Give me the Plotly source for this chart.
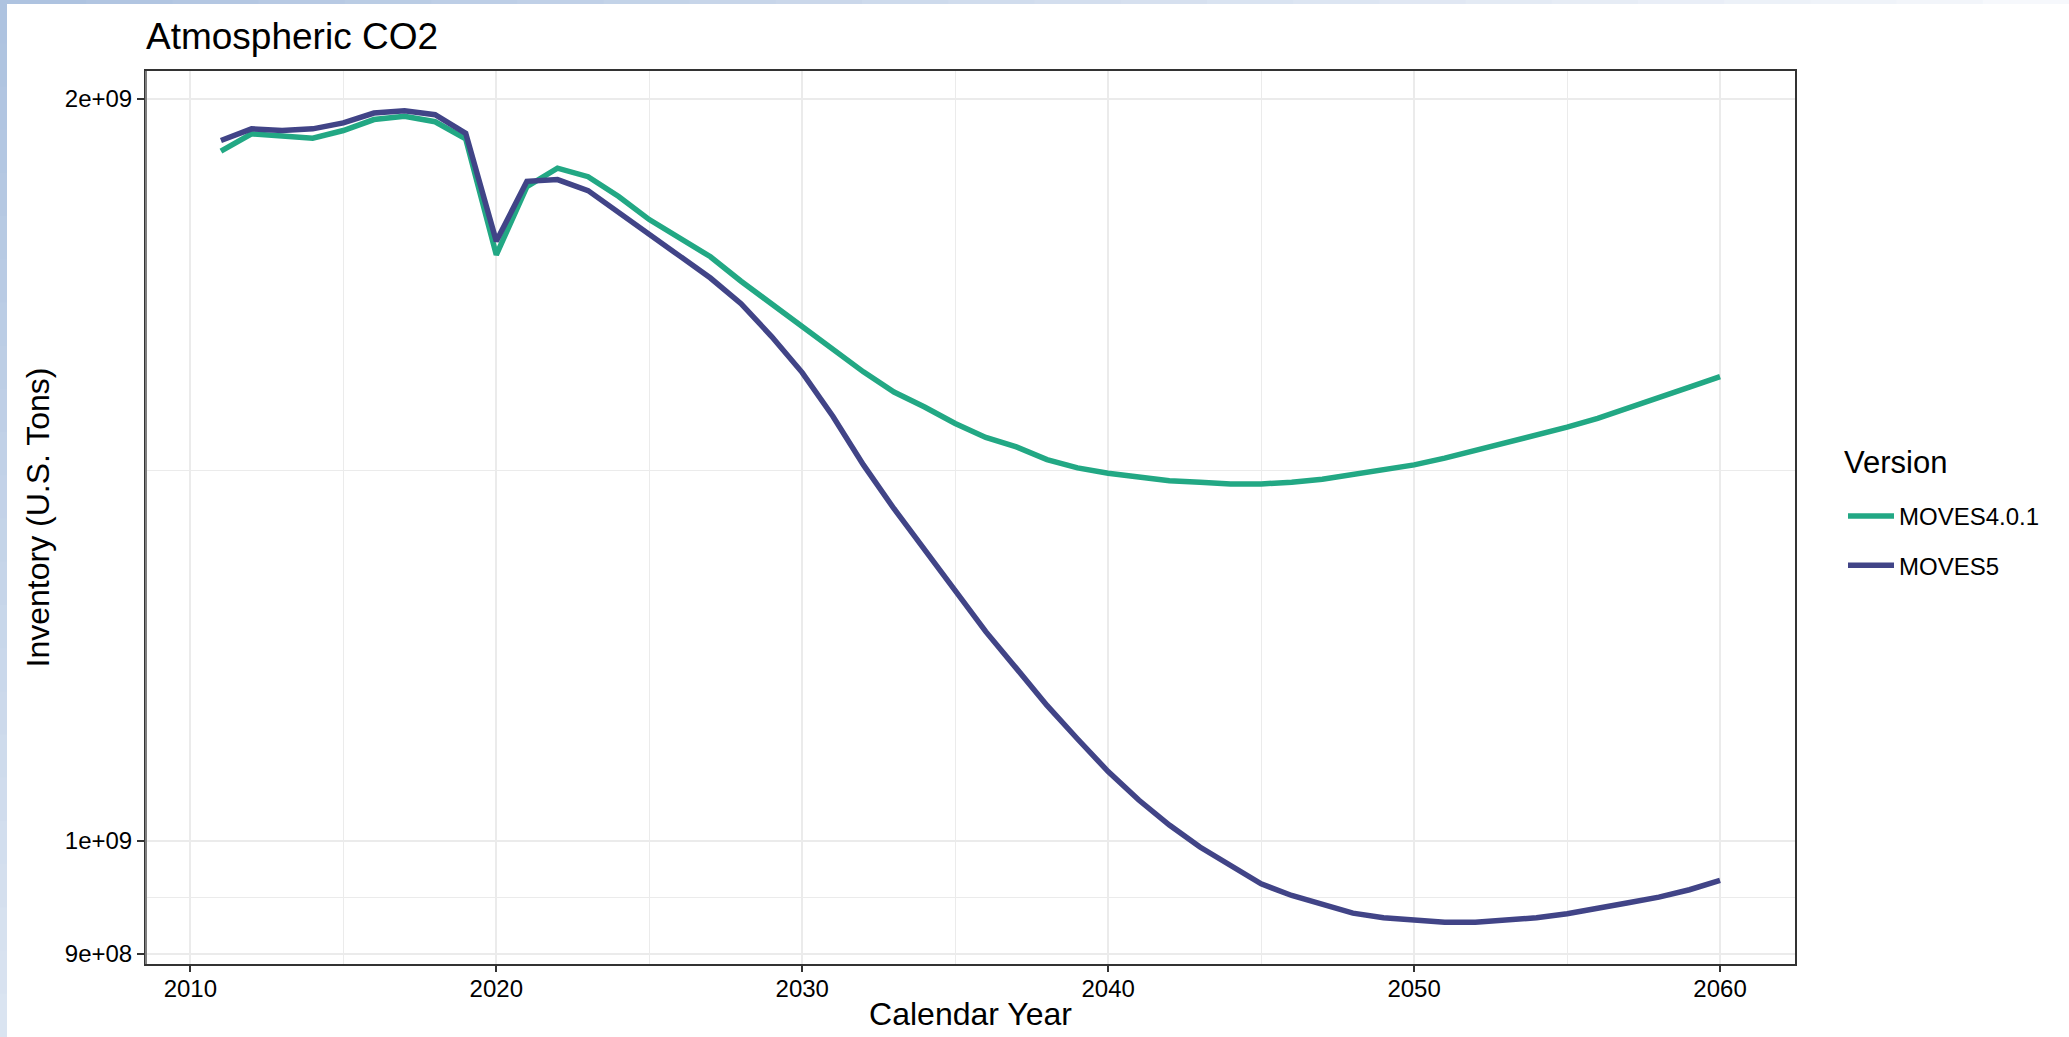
import plotly.graph_objects as go

# ---------------- data ----------------
years = [2011, 2012, 2013, 2014, 2015, 2016, 2017, 2018, 2019, 2020,
         2021, 2022, 2023, 2024, 2025, 2026, 2027, 2028, 2029, 2030,
         2031, 2032, 2033, 2034, 2035, 2036, 2037, 2038, 2039, 2040,
         2041, 2042, 2043, 2044, 2045, 2046, 2047, 2048, 2049, 2050,
         2051, 2052, 2053, 2054, 2055, 2056, 2057, 2058, 2059, 2060]

moves401 = [1.905e9, 1.936e9, 1.932e9, 1.928e9, 1.942e9, 1.962e9, 1.968e9, 1.958e9, 1.927e9, 1.729e9,
            1.843e9, 1.875e9, 1.860e9, 1.826e9, 1.787e9, 1.757e9, 1.726e9, 1.687e9, 1.652e9, 1.617e9,
            1.583e9, 1.550e9, 1.521e9, 1.500e9, 1.477e9, 1.458e9, 1.445e9, 1.428e9, 1.417e9, 1.410e9,
            1.405e9, 1.400e9, 1.398e9, 1.396e9, 1.396e9, 1.398e9, 1.402e9, 1.408e9, 1.414e9, 1.421e9,
            1.430e9, 1.440e9, 1.450e9, 1.461e9, 1.472e9, 1.484e9, 1.498e9, 1.512e9, 1.528e9, 1.543e9]

moves5 = [1.924e9, 1.945e9, 1.942e9, 1.945e9, 1.956e9, 1.974e9, 1.978e9, 1.971e9, 1.937e9, 1.751e9,
          1.852e9, 1.855e9, 1.836e9, 1.798e9, 1.762e9, 1.727e9, 1.692e9, 1.652e9, 1.602e9, 1.549e9,
          1.487e9, 1.421e9, 1.364e9, 1.312e9, 1.264e9, 1.216e9, 1.175e9, 1.135e9, 1.100e9, 1.067e9,
          1.039e9, 1.015e9, 0.9944e9, 0.9774e9, 0.9608e9, 0.9504e9, 0.9424e9, 0.9348e9, 0.9308e9, 0.9284e9,
          0.9270e9, 0.9270e9, 0.9284e9, 0.9308e9, 0.9343e9, 0.9386e9, 0.9440e9, 0.9489e9, 0.9555e9, 0.9639e9]

series_names = ["MOVES4.0.1", "MOVES5"]
series_colors = ["#22A884", "#414487"]
legend_title = "Version"

x_ticks = [2010, 2020, 2030, 2040, 2050, 2060]
x_minor = [2015, 2025, 2035, 2045, 2055]
y_ticks = [9e8, 1e9, 2e9]
y_ticklabels = ["9e+08", "1e+09", "2e+09"]
y_minor = [(9e8 * 1e9) ** 0.5, (1e9 * 2e9) ** 0.5]

# ---------------- layout geometry ----------------
W, H = 2069, 1037
ML, MR, MT, MB = 146, 274, 71, 73
PW, PH = W - ML - MR, H - MT - MB


def px_x(px):
    return (px - ML) / PW


def px_y(py):
    return (H - MB - py) / PH


FONT = "Liberation Sans, Arial, sans-serif"
GRID = "#ebebeb"
DARK = "#333333"

fig = go.Figure()
for name, vals, col in zip(series_names, [moves401, moves5], series_colors):
    fig.add_trace(go.Scatter(
        x=years, y=vals, mode="lines", name=name, legendgroup=name,
        line=dict(color=col, width=5.5),
    ))

# background decoration (slide frame gradient strips)
shapes = []
n = 24
c0 = (0xAE, 0xC3, 0xE0)
c1l = (0xDA, 0xE4, 0xF1)
c1t = (0xF6, 0xF8, 0xFC)
for i in range(n):
    t = i / (n - 1)
    cl = "rgb(%d,%d,%d)" % tuple(int(a + (b - a) * t) for a, b in zip(c0, c1l))
    ct = "rgb(%d,%d,%d)" % tuple(int(a + (b - a) * t) for a, b in zip(c0, c1t))
    shapes.append(dict(type="rect", xref="paper", yref="paper", layer="above",
                       x0=px_x(0), x1=px_x(7), y0=px_y(H * i / n), y1=px_y(H * (i + 1) / n + 1),
                       line=dict(width=0), fillcolor=cl))
    shapes.append(dict(type="rect", xref="paper", yref="paper", layer="above",
                       x0=px_x(W * i / n), x1=px_x(W * (i + 1) / n + 1), y0=px_y(0), y1=px_y(4),
                       line=dict(width=0), fillcolor=ct))

# lighter left panel edge (as in the reference)
shapes.append(dict(type="line", xref="paper", yref="paper", layer="above",
                   x0=0, x1=0, y0=0, y1=1, line=dict(color="#7f7f7f", width=2)))

fig.update_layout(
    width=W, height=H,
    margin=dict(l=ML, r=MR, t=MT, b=MB, pad=0, autoexpand=False),
    paper_bgcolor="white", plot_bgcolor="white",
    font=dict(family=FONT, color="black", size=24),
    title=dict(text="Atmospheric CO2", font=dict(size=37, color="black", family=FONT),
               x=0, xref="paper", xanchor="left",
               y=1 - 36 / H, yref="container", yanchor="middle"),
    showlegend=True,
    legend=dict(
        font=dict(size=24, color="black"),
        x=px_x(1843), xanchor="left", y=px_y(494), yanchor="top",
        tracegroupgap=15, itemwidth=46, bgcolor="rgba(0,0,0,0)",
        borderwidth=0,
    ),
    annotations=[dict(text=legend_title, xref="paper", yref="paper", showarrow=False,
                      x=px_x(1842), xanchor="left", y=px_y(462), yanchor="middle",
                      font=dict(size=31, color="black", family=FONT))],
    shapes=shapes,
)

fig.update_xaxes(
    range=[2008.55, 2062.45], automargin=False,
    tickmode="array", tickvals=x_ticks, ticktext=[str(v) for v in x_ticks],
    showgrid=True, gridcolor=GRID, gridwidth=2,
    minor=dict(tickmode="array", tickvals=x_minor, showgrid=True, gridcolor=GRID, gridwidth=1.3, ticklen=0),
    ticks="outside", ticklen=6, tickwidth=2, tickcolor=DARK,
    showline=True, linecolor=DARK, linewidth=2, mirror=True,
    zeroline=False, ticklabelstandoff=-4,
    tickfont=dict(size=24, color="black"),
    title=dict(text="Calendar Year", font=dict(size=32, color="black"), standoff=2),
)

fig.update_yaxes(
    type="log", range=[8.9501, 9.3124], automargin=False,
    tickmode="array", tickvals=y_ticks, ticktext=y_ticklabels,
    showgrid=True, gridcolor=GRID, gridwidth=2,
    minor=dict(tickmode="array", tickvals=y_minor, showgrid=True, gridcolor=GRID, gridwidth=1.3, ticklen=0),
    ticks="outside", ticklen=7, tickwidth=2, tickcolor=DARK,
    showline=True, linecolor=DARK, linewidth=2, mirror=True,
    zeroline=False,
    tickfont=dict(size=24, color="black"),
    title=dict(text="Inventory (U.S. Tons)", font=dict(size=32, color="black"), standoff=6),
)

fig.write_html("out.html")
